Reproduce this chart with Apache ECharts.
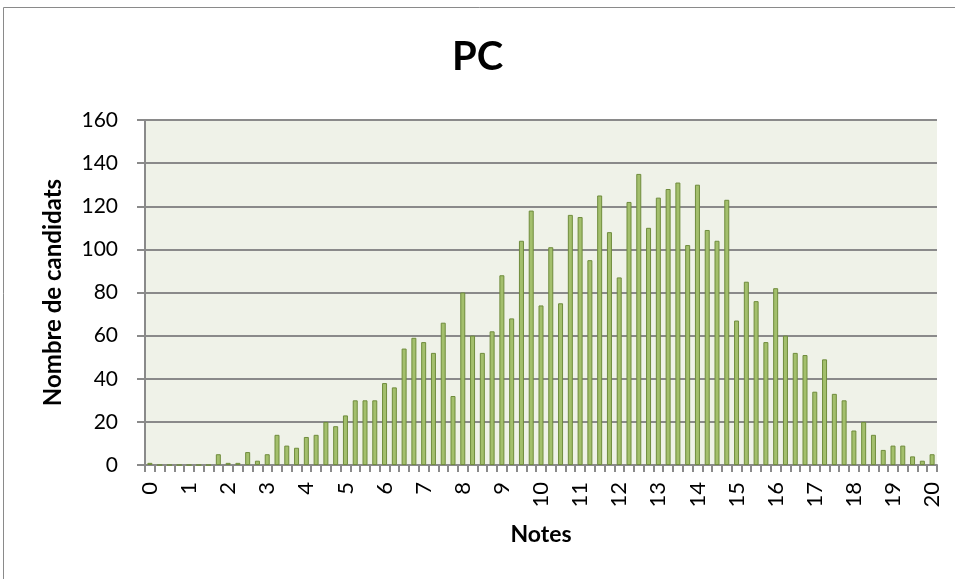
<!DOCTYPE html>
<html>
<head>
<meta charset="utf-8">
<script src="https://cdn.jsdelivr.net/npm/echarts@6/dist/echarts.min.js"></script>
<style>
  html, body { margin: 0; padding: 0; background: #fff; }
  #chart { width: 955px; height: 579px; }
</style>
</head>
<body>
<div id="chart"></div>
<script>
  // notes de 0 a 20 par pas de 0.25
  const notes = [];
  for (let i = 0; i <= 80; i++) notes.push(String(i / 4));

  const candidats = [
    1, 0, 0, 0, 0, 0, 0, 5, 1, 1, 6, 2, 5, 14, 9, 8,
    13, 14, 20, 18, 23, 30, 30, 30, 38, 36, 54, 59, 57, 52, 66, 32,
    80, 60, 52, 62, 88, 68, 104, 118, 74, 101, 75, 116, 115, 95, 125, 108,
    87, 122, 135, 110, 124, 128, 131, 102, 130, 109, 104, 123, 67, 85, 76, 57,
    82, 60, 52, 51, 34, 49, 33, 30, 16, 20, 14, 7, 9, 9, 4, 2,
    5
  ];

  const chart = echarts.init(document.getElementById('chart'));

  const option = {
    animation: false,
    backgroundColor: '#fff',
    graphic: [{
      type: 'rect',
      shape: { x: 3.5, y: 7.5, width: 960, height: 590 },
      style: { fill: 'none', stroke: '#8a8a8a', lineWidth: 1 }
    }],
    title: {
      text: 'PC',
      left: 'center',
      top: 32,
      textStyle: { fontFamily: 'Lato', fontWeight: 'bold', fontSize: 40, color: '#000' }
    },
    grid: { left: 145, right: 18, top: 120, bottom: 114 },
    xAxis: {
      type: 'category',
      data: notes,
      name: 'Notes',
      nameLocation: 'middle',
      nameGap: 58,
      nameTextStyle: { fontFamily: 'Lato', fontWeight: 'bold', fontSize: 23, color: '#000' },
      axisLine: { lineStyle: { color: '#8a8a8a', width: 2 } },
      axisTick: { show: true, interval: 0, length: 7, lineStyle: { color: '#8a8a8a', width: 2 } },
      axisLabel: {
        interval: 3,
        rotate: 90,
        margin: 17,
        fontFamily: 'Lato',
        fontSize: 22,
        color: '#000'
      }
    },
    yAxis: {
      type: 'value',
      min: 0,
      max: 160,
      interval: 20,
      name: 'Nombre de candidats',
      nameLocation: 'middle',
      nameGap: 80,
      nameRotate: 90,
      nameTextStyle: { fontFamily: 'Lato', fontWeight: 'bold', fontSize: 24, color: '#000' },
      axisLine: { show: true, lineStyle: { color: '#8a8a8a', width: 2 } },
      axisTick: { show: true, length: 8, lineStyle: { color: '#8a8a8a', width: 2 } },
      axisLabel: { margin: 27, fontFamily: 'Lato', fontSize: 21, color: '#000' },
      splitLine: { show: true, lineStyle: { color: '#8a8a8a', width: 2 } },
      splitArea: { show: true, areaStyle: { color: ['#eff2e8', '#eff2e8'] } }
    },
    series: [{
      type: 'bar',
      data: candidats,
      barWidth: 5,
      itemStyle: { color: '#a3bf6c', borderColor: '#6f8c3c', borderWidth: 1 }
    }]
  };

  chart.setOption(option);
</script>
</body>
</html>
